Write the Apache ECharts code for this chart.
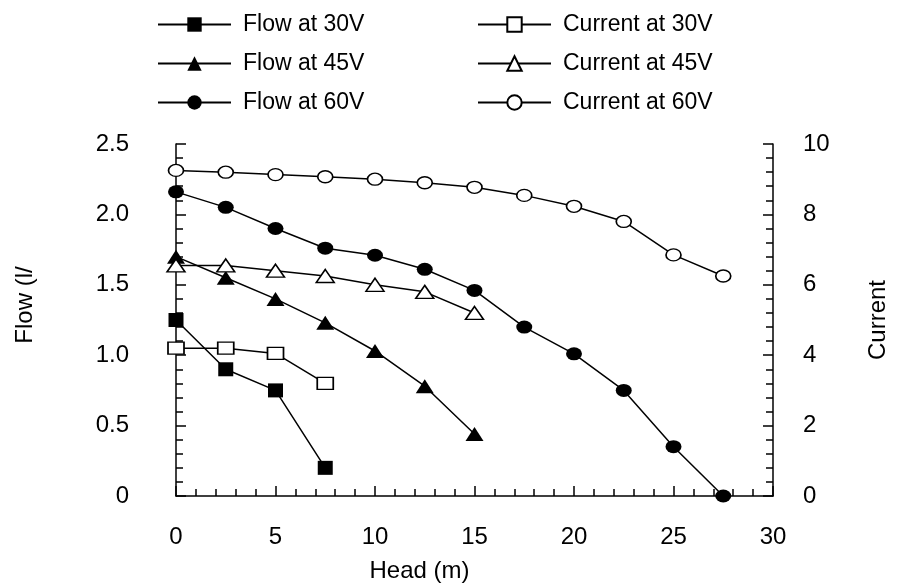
<!DOCTYPE html>
<html>
<head>
<meta charset="utf-8">
<script src="https://cdn.jsdelivr.net/npm/echarts@6/dist/echarts.min.js"></script>
<style>
  html, body { margin: 0; padding: 0; background: #fff; }
  #chart { width: 898px; height: 588px; }
</style>
</head>
<body>
<div id="chart"></div>
<script>
// head (m) for each run
const head30 = [0, 2.5, 5, 7.5];
const head45 = [0, 2.5, 5, 7.5, 10, 12.5, 15];
const head60 = [0, 2.5, 5, 7.5, 10, 12.5, 15, 17.5, 20, 22.5, 25, 27.5];

// flow (left axis)
const flow30 = [1.25, 0.9, 0.75, 0.2];
const flow45 = [1.7, 1.55, 1.4, 1.23, 1.03, 0.78, 0.44];
const flow60 = [2.16, 2.05, 1.9, 1.76, 1.71, 1.61, 1.46, 1.2, 1.01, 0.75, 0.35, 0];

// current (right axis)
const current30 = [4.2, 4.2, 4.05, 3.2];
const current45 = [6.55, 6.55, 6.4, 6.25, 6.0, 5.8, 5.2];
const current60 = [9.25, 9.2, 9.13, 9.07, 9.0, 8.9, 8.77, 8.54, 8.23, 7.8, 6.85, 6.25];

const pairs = (xs, ys) => xs.map((x, i) => [x, ys[i]]);
const font = "Liberation Sans, Arial, sans-serif";

const filled = { color: "#000" };
const hollow = { color: "#fff", borderColor: "#000", borderWidth: 1.5 };

function mk(name, xs, ys, axis, symbol, size, style) {
  return {
    name: name,
    type: "line",
    yAxisIndex: axis,
    data: pairs(xs, ys),
    symbol: symbol,
    symbolSize: size,
    showAllSymbol: true,
    clip: false,
    lineStyle: { color: "#000", width: 1.5 },
    itemStyle: style,
    z: style === filled ? 3 : 4,
  };
}

const chart = echarts.init(document.getElementById("chart"));

const legendBase = {
  orient: "vertical",
  top: 8,
  itemWidth: 73,
  itemHeight: 18,
  itemGap: 16,
  textStyle: { fontFamily: font, fontSize: 23, color: "#000", padding: [0, 0, 0, 7] },
};

const axisText = { fontFamily: font, fontSize: 24, color: "#000" };
const blackLine = { color: "#000", width: 1.5 };

chart.setOption({
  animation: false,
  backgroundColor: "#fff",
  textStyle: { fontFamily: font },
  legend: [
    Object.assign({}, legendBase, {
      left: 152,
      data: ["Flow at 30V", "Flow at 45V", "Flow at 60V"],
    }),
    Object.assign({}, legendBase, {
      left: 472,
      data: ["Current at 30V", "Current at 45V", "Current at 60V"],
    }),
  ],
  grid: { left: 176, right: 118, top: 144, bottom: 92 },
  xAxis: {
    type: "value",
    min: 0,
    max: 30,
    interval: 5,
    name: "Head (m)",
    nameLocation: "middle",
    nameGap: 63,
    nameMoveOverlap: false,
    nameTextStyle: Object.assign({ padding: [0, 110, 0, 0] }, axisText),
    axisLine: { lineStyle: blackLine },
    axisTick: { inside: true, length: 10, lineStyle: blackLine },
    minorTick: { show: true, splitNumber: 5, length: 7, lineStyle: blackLine },
    axisLabel: Object.assign({ margin: 29 }, axisText),
    splitLine: { show: false },
  },
  yAxis: [
    {
      type: "value",
      min: 0,
      max: 2.5,
      interval: 0.5,
      name: "Flow (l/",
      nameLocation: "middle",
      nameRotate: 90,
      nameGap: 139,
      nameMoveOverlap: false,
      nameTextStyle: Object.assign({ padding: [0, 0, 0, 30] }, axisText),
      axisLine: { show: true, lineStyle: blackLine },
      axisTick: { show: true, inside: true, length: 10, lineStyle: blackLine },
      minorTick: { show: true, splitNumber: 5, length: 7, lineStyle: blackLine },
      axisLabel: Object.assign({
        margin: 47,
        formatter: (v) => (v === 0 ? "0" : v.toFixed(1)),
      }, axisText),
      splitLine: { show: false },
    },
    {
      type: "value",
      position: "right",
      min: 0,
      max: 10,
      interval: 2,
      name: "Current",
      nameLocation: "middle",
      nameRotate: 90,
      nameGap: 93,
      nameMoveOverlap: false,
      nameTextStyle: axisText,
      axisLine: { show: true, lineStyle: blackLine },
      axisTick: { show: true, inside: true, length: 10, lineStyle: blackLine },
      minorTick: { show: true, splitNumber: 5, length: 7, lineStyle: blackLine },
      axisLabel: Object.assign({ margin: 30 }, axisText),
      splitLine: { show: false },
    },
  ],
  series: [
    mk("Flow at 30V", head30, flow30, 0, "rect", [15, 14], filled),
    mk("Flow at 45V", head45, flow45, 0, "triangle", [18, 14], filled),
    mk("Flow at 60V", head60, flow60, 0, "circle", [16, 13], filled),
    mk("Current at 30V", head30, current30, 1, "rect", [16, 12], hollow),
    mk("Current at 45V", head45, current45, 1, "triangle", [18, 13], hollow),
    mk("Current at 60V", head60, current60, 1, "circle", [15, 12], hollow),
  ],
});
</script>
</body>
</html>
